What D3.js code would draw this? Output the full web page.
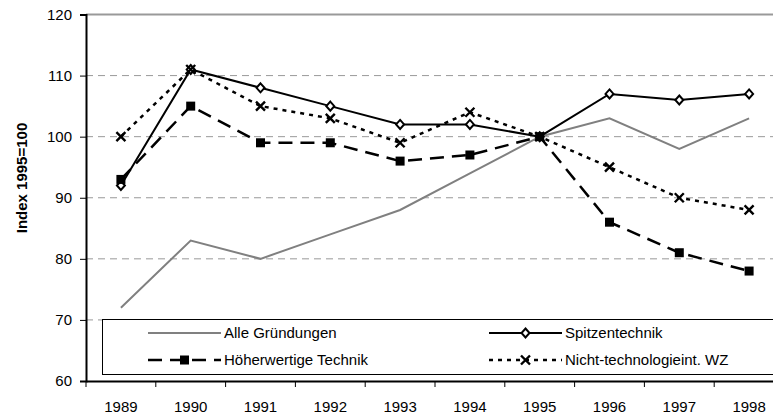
<!DOCTYPE html>
<html>
<head>
<meta charset="utf-8">
<script src="https://cdn.jsdelivr.net/npm/d3@7"></script>
<style>
  body { margin: 0; background: #fff; }
  svg { display: block; font-family: "Liberation Sans", Arial, sans-serif; }
</style>
</head>
<body>
<svg id="chart" width="773" height="418"></svg>
<script>
// data
const years = ["1989","1990","1991","1992","1993","1994","1995","1996","1997","1998"];
const alleGruendungen = [72, 83, 80, 84, 88, 94, 100, 103, 98, 103];
const spitzentechnik = [92, 111, 108, 105, 102, 102, 100, 107, 106, 107];
const hoeherwertige = [93, 105, 99, 99, 96, 97, 100, 86, 81, 78];
const nichtTech = [100, 111, 105, 103, 99, 104, 100, 95, 90, 88];
const yTicks = [60, 70, 80, 90, 100, 110, 120];
const gridTicks = [70, 80, 90, 100, 110];

const series = [
  {name: "Alle Gründungen", values: alleGruendungen, color: "#808080", dash: null, marker: null, w: 2},
  {name: "Spitzentechnik", values: spitzentechnik, color: "#000", dash: null, marker: "diamond", w: 2},
  {name: "Nicht-technologieint. WZ", values: nichtTech, color: "#000", dash: "4,5", marker: "x", w: 2.5},
  {name: "Höherwertige Technik", values: hoeherwertige, color: "#000", dash: "14,8", marker: "square", w: 2.5}
];

const svg = d3.select("#chart");
const mLeft = 86, mBottom = 381, mTop = 14.5, mRight = 784;

const x = d3.scaleBand().domain(years).range([mLeft, mRight]).padding(0);
const y = d3.scaleLinear().domain([60, 120]).range([mBottom, mTop]);

// grid
svg.append("g").selectAll("line")
  .data(gridTicks).join("line")
  .attr("x1", mLeft).attr("x2", 773)
  .attr("y1", d => y(d)).attr("y2", d => y(d))
  .attr("stroke", "#999").attr("stroke-width", 1)
  .attr("stroke-dasharray", "7,5");

// top border
svg.append("line")
  .attr("x1", mLeft).attr("x2", 773)
  .attr("y1", y(120)).attr("y2", y(120))
  .attr("stroke", "#999").attr("stroke-width", 2);

// markers
function drawMarker(g, type, cx, cy) {
  if (type === "diamond") {
    g.append("path")
      .attr("d", `M${cx},${cy-4.5}L${cx+4},${cy}L${cx},${cy+4.5}L${cx-4},${cy}Z`)
      .attr("fill", "#fff").attr("stroke", "#000").attr("stroke-width", 2);
  } else if (type === "square") {
    g.append("rect")
      .attr("x", cx - 4.5).attr("y", cy - 4.5)
      .attr("width", 9).attr("height", 9)
      .attr("fill", "#000");
  } else if (type === "x") {
    g.append("path")
      .attr("d", `M${cx-4.5},${cy-4.5}L${cx+4.5},${cy+4.5}M${cx-4.5},${cy+4.5}L${cx+4.5},${cy-4.5}`)
      .attr("stroke", "#000").attr("stroke-width", 2.4).attr("fill", "none");
  }
}

const line = d3.line()
  .x((d, i) => x(years[i]) + x.bandwidth() / 2)
  .y(d => y(d));

series.forEach(s => {
  const g = svg.append("g");
  g.append("path")
    .attr("d", line(s.values))
    .attr("fill", "none")
    .attr("stroke", s.color)
    .attr("stroke-width", s.w)
    .attr("stroke-dasharray", s.dash);
  if (s.marker) {
    s.values.forEach((v, i) => drawMarker(g, s.marker, x(years[i]) + x.bandwidth() / 2, y(v)));
  }
});

// legend
const lg = svg.append("g");
lg.append("rect")
  .attr("x", 102.5).attr("y", 319.5)
  .attr("width", 700).attr("height", 55)
  .attr("fill", "#fff").attr("stroke", "#000").attr("stroke-width", 1);

const legendItems = [
  {s: series[0], lx: 148, ly: 333},
  {s: series[3], lx: 148, ly: 360},
  {s: series[1], lx: 489, ly: 333},
  {s: series[2], lx: 489, ly: 360}
];
legendItems.forEach(it => {
  lg.append("line")
    .attr("x1", it.lx).attr("x2", it.lx + 73)
    .attr("y1", it.ly).attr("y2", it.ly)
    .attr("stroke", it.s.color).attr("stroke-width", it.s.w)
    .attr("stroke-dasharray", it.s.dash);
  if (it.s.marker) drawMarker(lg, it.s.marker, it.lx + 36.5, it.ly);
  lg.append("text")
    .attr("x", it.lx + 76).attr("y", it.ly + 5.3)
    .style("font-size", "15px")
    .text(it.s.name);
});

// y axis
const yAxis = svg.append("g")
  .attr("transform", `translate(${mLeft},0)`)
  .call(d3.axisLeft(y).tickValues(yTicks).tickSize(6).tickPadding(8));
yAxis.attr("font-family", null).attr("font-size", null);
yAxis.select(".domain").attr("stroke", "#000").attr("stroke-width", 2);
yAxis.selectAll(".tick line").attr("stroke", "#000");
yAxis.selectAll(".tick text").style("font-size", "15px").attr("fill", "#000");

// x axis
const xAxis = svg.append("g")
  .attr("transform", `translate(0,${mBottom})`)
  .call(d3.axisBottom(x).tickSize(0).tickPadding(20));
xAxis.attr("font-family", null).attr("font-size", null);
xAxis.select(".domain").attr("stroke", "#000").attr("stroke-width", 2);
xAxis.selectAll(".tick text").style("font-size", "15px").attr("fill", "#000");
xAxis.selectAll(".bticks").data(years).join("line")
  .attr("class", "bticks")
  .attr("x1", d => x(d)).attr("x2", d => x(d))
  .attr("y1", 0).attr("y2", 6)
  .attr("stroke", "#000");

// y title
svg.append("text")
  .attr("transform", "translate(27,178) rotate(-90)")
  .attr("text-anchor", "middle")
  .style("font-size", "15px")
  .style("font-weight", "bold")
  .text("Index 1995=100");
</script>
</body>
</html>
